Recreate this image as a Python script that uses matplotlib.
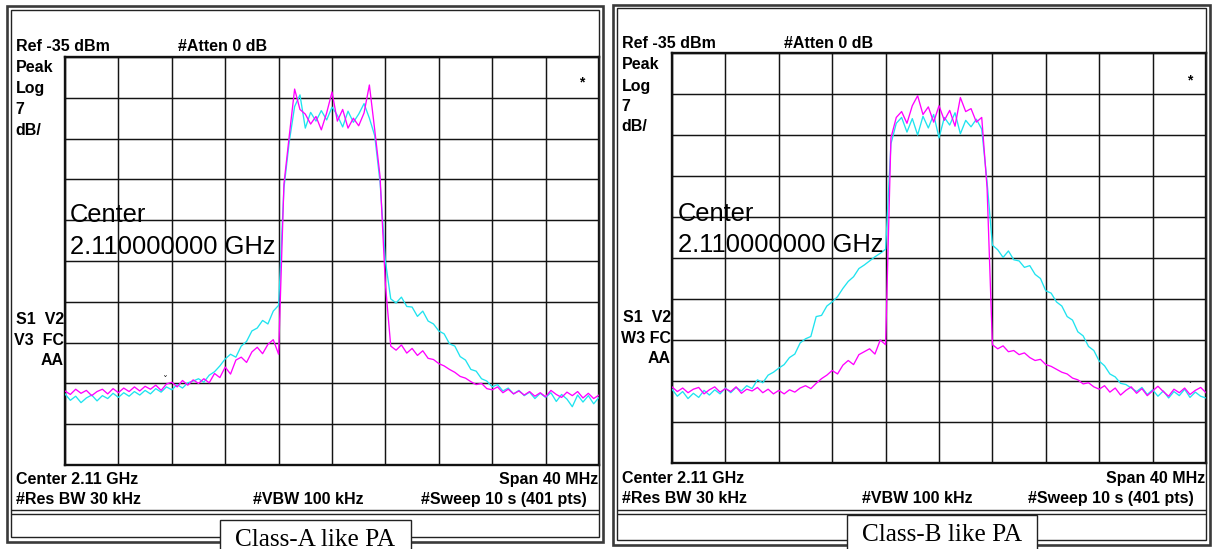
import numpy as np
import matplotlib
matplotlib.use("Agg")
import matplotlib.pyplot as plt
from matplotlib.patches import Rectangle

# ---------------- data (dBm vs. frequency offset from 2.11 GHz, MHz) -------------
freq_mhz = np.linspace(-20, 20, 101)

classA_cyan = [-92.8, -93.9, -93.2, -94.3, -93.5, -93.0, -94.0, -93.1, -93.6, -92.7,
               -93.4, -92.6, -93.2, -92.4, -93.0, -92.2, -92.8, -91.9, -92.5, -91.6,
               -92.1, -91.2, -91.8, -90.9, -90.6, -90.2, -90.8, -89.6, -89.0, -88.0,
               -86.8, -86.0, -86.5, -84.6, -83.8, -82.0, -81.5, -80.2, -80.8, -78.6,
               -77.6,
               -57.5, -49.5, -43.5, -41.5, -47.2, -44.5, -46.0, -44.2, -45.8, -43.6,
               -45.0, -47.0, -44.3, -46.2, -44.8, -43.0, -45.5, -48.5, -56.5, -70.0,
               -76.5, -77.2, -76.2, -77.8, -77.9, -79.5, -78.6, -80.3, -80.8, -82.0,
               -82.5, -84.2, -84.6, -86.4, -87.0, -88.6, -88.9, -90.2, -90.6, -91.6,
               -91.2, -92.3, -91.8, -92.8, -92.2, -93.1, -92.5, -93.6, -92.7, -93.4,
               -92.6, -94.1, -92.9, -93.7, -95.0, -93.0, -94.2, -93.1, -94.5, -93.4]

classA_magenta = [-92.3, -92.9, -92.0, -92.7, -92.2, -93.1, -92.4, -92.0, -92.8, -91.9,
                  -92.6, -91.8, -92.4, -91.6, -92.3, -91.5, -92.0, -91.3, -92.2, -91.1,
                  -90.8, -91.6, -90.5, -91.3, -90.4, -91.0, -90.2, -90.9, -89.3, -90.0,
                  -88.2, -89.4, -87.0, -86.5, -87.4, -85.6, -84.8, -85.9, -84.3, -83.5,
                  -86.0,
                  -56.8, -48.5, -40.5, -44.0, -44.8, -46.5, -45.2, -47.5, -44.6, -41.0,
                  -46.0, -44.0, -47.2, -45.5, -46.8, -44.6, -39.8, -47.5, -55.5, -74.0,
                  -84.6, -85.3, -84.4, -85.8, -85.0, -86.2, -85.4, -86.7, -86.9, -87.6,
                  -88.0, -88.6, -89.1, -89.8, -90.1, -90.7, -91.2, -91.0, -91.9, -92.1,
                  -91.6, -92.6, -92.0, -92.8, -92.3, -93.0, -92.4, -93.2, -92.6, -93.3,
                  -92.2, -92.9, -93.4, -92.5, -93.1, -92.4, -93.5, -92.7, -93.6, -93.0]

classB_cyan = [-92.4, -93.6, -92.8, -94.0, -93.1, -93.8, -92.6, -93.4, -92.5, -93.2,
               -92.2, -93.0, -92.1, -92.7, -91.8, -92.3,
               -90.8, -91.3, -90.0, -89.5, -88.8, -88.2, -87.0, -86.4, -84.5, -83.8,
               -83.4, -80.0, -79.8, -78.2, -77.5, -76.6, -75.2, -74.0, -73.2, -71.8,
               -71.2, -70.5, -69.8, -69.2, -68.5,
               -50.5, -47.0, -46.0, -48.5, -46.2, -49.0, -45.8, -47.8, -45.5, -49.5,
               -46.0, -47.3, -45.2, -48.8, -46.5, -47.6, -46.3, -48.0, -57.0,
               -67.8, -68.6, -69.9, -68.8, -70.3, -70.5, -71.6, -71.3, -72.8, -73.5,
               -75.6, -76.0, -77.5, -78.2, -80.0, -80.6, -82.6, -83.3, -85.1, -85.8,
               -87.6, -88.4, -89.8, -90.3, -91.4, -91.6, -92.2,
               -92.8, -92.1, -93.3, -92.5, -93.6, -92.7, -93.9, -92.8, -93.5, -92.4,
               -93.8, -92.9, -93.6, -93.9]

classB_magenta = [-92.0, -92.8, -92.2, -93.0, -92.4, -92.1, -93.2, -92.5, -92.0, -92.9,
                  -92.3, -92.8, -92.0, -93.1, -92.4, -92.7, -92.1, -93.0, -92.4, -93.2,
                  -92.6, -93.2, -92.5, -92.9, -92.2, -91.8, -92.3, -91.4,
                  -90.6, -90.0, -89.2, -89.8, -88.3, -87.5, -88.2, -86.5, -86.0, -85.5,
                  -86.4, -84.0, -84.8,
                  -49.5, -46.0, -45.0, -47.0, -44.0, -42.3, -45.5, -44.2, -46.8, -44.0,
                  -46.5, -44.8, -47.5, -42.6, -45.0, -44.5, -46.8, -46.0, -58.0,
                  -84.8, -85.5, -85.0, -86.0, -85.8, -86.5, -86.2, -87.0, -87.5, -87.3,
                  -88.2, -88.5, -89.0, -89.5, -89.8, -90.5, -90.8, -91.5, -91.3, -92.0,
                  -92.4, -91.8, -92.9, -92.2, -93.4, -92.6, -92.0, -93.1, -92.3, -93.5,
                  -92.7, -91.9, -92.8, -93.6, -92.4, -93.0, -92.2, -93.3, -92.6, -92.1,
                  -93.0]

ref_level = -35
db_per_div = 7
captions = ["Class-A like PA", "Class-B like PA"]

# ---------------- figure --------------------------------------------------------
W, H = 1213, 549
fig = plt.figure(figsize=(W / 100, H / 100), dpi=100)
fig.patch.set_facecolor("white")

CYAN = "#1fe3ef"
MAGENTA = "#ff00ff"
BOLD = dict(family="Liberation Sans", fontweight="bold", fontsize=11.5, color="black")


def px_axes(x0, y0, x1, y1):
    return fig.add_axes([x0 / W, 1 - y1 / H, (x1 - x0) / W, (y1 - y0) / H])


def spectrum(grid, cyan, magenta):
    x0, y0, x1, y1 = grid
    ax = px_axes(x0, y0, x1, y1)
    ax.set_xlim(-20, 20)
    ax.set_ylim(ref_level - 10 * db_per_div, ref_level)
    ax.set_xticks(np.arange(-20, 21, 4))
    ax.set_yticks(np.arange(ref_level - 10 * db_per_div, ref_level + 1, db_per_div))
    ax.tick_params(length=0, labelbottom=False, labelleft=False)
    ax.grid(True, color="#141414", linewidth=1.05)
    ax.set_axisbelow(True)
    for s in ax.spines.values():
        s.set_linewidth(1.7)
        s.set_color("#111111")
    ax.plot(freq_mhz, cyan, color=CYAN, lw=0.95, zorder=3)
    ax.plot(freq_mhz, magenta, color=MAGENTA, lw=0.95, zorder=4)
    return ax


axA = spectrum((65, 57, 599, 465), classA_cyan, classA_magenta)
axB = spectrum((672, 53, 1206, 463), classB_cyan, classB_magenta)

# overlay in pixel coordinates
ov = fig.add_axes([0, 0, 1, 1], zorder=10)
ov.set_xlim(0, W)
ov.set_ylim(H, 0)
ov.axis("off")
ov.patch.set_alpha(0)


def hline(x0, x1, y, lw=1.2, c="#222222"):
    ov.plot([x0, x1], [y, y], color=c, lw=lw, solid_capstyle="butt")


panels = [
    dict(ox0=7, oy0=6, ox1=603, oy1=542, ix0=11, iy0=10, ix1=599,
         sep=510, grid_left=64, grid_right=599, cap=(220, 411, 520), top_base=51,
         side=[71.5, 93, 113.5, 135], s_base=[324, 345, 365], bot=[484, 504],
         vbw_x=253, big=(70, 222, 254), star=(582, 82), labels=("S1  V2", "V3  FC"),
         caret=(165, 381)),
    dict(ox0=613, oy0=5, ox1=1210, oy1=545, ix0=617, iy0=8, ix1=1206,
         sep=510, grid_left=671, grid_right=1206, cap=(847, 1037, 515), top_base=48,
         side=[69, 91, 111, 131], s_base=[322, 343, 363], bot=[483, 503],
         vbw_x=862, big=(678, 221, 252), star=(1190, 80), labels=("S1  V2", "W3 FC"),
         caret=(1190, 387)),
]

for p, cap in zip(panels, captions):
    # outer double frame
    ov.add_patch(Rectangle((p["ox0"], p["oy0"]), p["ox1"] - p["ox0"], p["oy1"] - p["oy0"],
                           fill=False, ec="#3a3a3a", lw=1.9))
    ov.add_patch(Rectangle((p["ix0"], p["iy0"]), p["ix1"] - p["ix0"], p["oy1"] - 5 - p["iy0"],
                           fill=False, ec="#222222", lw=1.0))
    # separator under the analyzer screen
    hline(p["ix0"], p["ix1"], p["sep"], lw=1.0)
    hline(p["ix0"], p["ix1"], p["sep"] + 3.5, lw=1.0)
    # caption box
    cx0, cx1, cy0 = p["cap"]
    ov.add_patch(Rectangle((cx0, cy0), cx1 - cx0, 60, fc="white", ec="#222222", lw=1.0, zorder=5))
    ov.text((cx0 + cx1) / 2, cy0 + 26, cap, family="Liberation Serif", fontsize=18.2,
            ha="center", va="baseline", color="black", zorder=6)

    gl = p["grid_left"]
    tx = p["ix0"] + 4.5
    ov.text(tx, p["top_base"], "Ref -35 dBm", va="baseline", **BOLD)
    ov.text(tx + 163, p["top_base"], "#Atten 0 dB", va="baseline", **BOLD)
    for yb, t in zip(p["side"], ["Peak", "Log", "7", "dB/"]):
        ov.text(tx, yb, t, va="baseline", **BOLD)
    for yb, t in zip(p["s_base"], list(p["labels"]) + ["AA"]):
        ov.text(gl, yb, t, va="baseline", ha="right", **BOLD)
    ov.text(tx, p["bot"][0], "Center 2.11 GHz", va="baseline", **BOLD)
    ov.text(tx, p["bot"][1], "#Res BW 30 kHz", va="baseline", **BOLD)
    ov.text(p["vbw_x"], p["bot"][1], "#VBW 100 kHz", va="baseline", **BOLD)
    ov.text(p["grid_right"] - 1, p["bot"][0], "Span 40 MHz", va="baseline", ha="right", **BOLD)
    ov.text(p["grid_right"] - 12, p["bot"][1], "#Sweep 10 s (401 pts)", va="baseline",
            ha="right", **BOLD)
    ov.text(p["star"][0], p["star"][1], "*", ha="center", va="center",
            family="Liberation Sans", fontweight="bold", fontsize=10)
    ov.text(p["caret"][0], p["caret"][1], "ˇ", ha="center", va="center",
            family="DejaVu Sans", fontsize=7, color="#222222")
    bx, by1, by2 = p["big"]
    ov.text(bx, by1, "Center", family="Liberation Sans", fontsize=18.4, va="baseline",
            color="black")
    ov.text(bx, by2, "2.110000000 GHz", family="Liberation Sans", fontsize=18.4,
            va="baseline", color="black")

fig.savefig("out.png", dpi=100, facecolor="white")
